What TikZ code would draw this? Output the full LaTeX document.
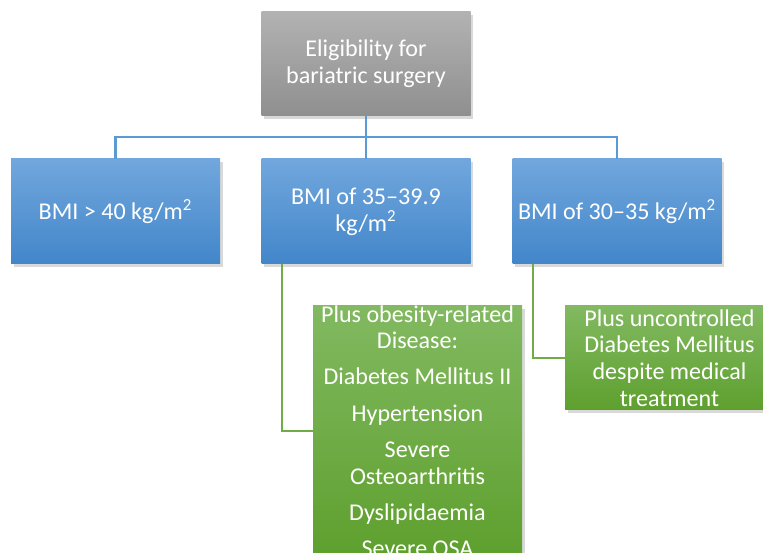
\documentclass[tikz,border=0pt]{standalone}
\usepackage{fontspec}
\setmainfont{Carlito}
\usetikzlibrary{shadows}

\definecolor{grayTop}{RGB}{178,178,178}
\definecolor{grayBot}{RGB}{143,143,143}
\definecolor{blueTop}{RGB}{113,167,221}
\definecolor{blueBot}{RGB}{66,134,202}
\definecolor{greenTop}{RGB}{130,185,97}
\definecolor{greenBot}{RGB}{94,160,46}
\definecolor{linkblue}{RGB}{91,155,213}
\definecolor{linkgreen}{RGB}{112,173,71}

\begin{document}
\begin{tikzpicture}[
    card/.style={minimum width=4.18cm, minimum height=2.1cm, inner sep=0pt,
        drop shadow={shadow xshift=0.05cm, shadow yshift=-0.06cm, opacity=0.3}},
    boxtext/.style={text=white, align=center, font=\fontsize{13.7}{15.2}\selectfont},
    graycard/.style={card, boxtext, top color=grayTop, bottom color=grayBot},
    bluecard/.style={card, boxtext, top color=blueTop, bottom color=blueBot},
    greencard/.style={card, top color=greenTop, bottom color=greenBot},
    bluelink/.style={draw=linkblue, line width=1.4pt},
    greenlink/.style={draw=linkgreen, line width=1.4pt}
]
    \useasboundingbox (0,0) rectangle (15.26,11.06);
    \clip (0,0) rectangle (15.26,11.06);

    % top box
    \node[graycard, minimum height=2.08cm] (elig) at (7.32,9.78) {Eligibility for\\bariatric surgery};

    % BMI boxes
    \node[bluecard] (bmiA) at (2.31,6.83) {BMI > 40 kg/m\textsuperscript{2}};
    \node[bluecard] (bmiB) at (7.32,6.83) {BMI of 35--39.9\\kg/m\textsuperscript{2}};
    \node[bluecard] (bmiC) at (12.34,6.83) {BMI of 30--35 kg/m\textsuperscript{2}};

    \coordinate (bus) at (7.32,8.32);
    \draw[bluelink] (elig.south) -- (bus);
    \draw[bluelink] (bus) -| (bmiA.north);
    \draw[bluelink] (bus) -- (bmiB.north);
    \draw[bluelink] (bus) -| (bmiC.north);

    % extra conditions
    \node[greencard, minimum height=5cm] (plusA) at (8.35,2.44) {};
    \node[boxtext] (plusAtxt) at (plusA.center) {Plus obesity-related\\Disease:\\[0.19cm]Diabetes Mellitus II\\[0.19cm]Hypertension\\[0.19cm]Severe\\Osteoarthritis\\[0.19cm]Dyslipidaemia\\[0.19cm]Severe OSA};
    \node[greencard, boxtext, minimum height=2.08cm] (plusC) at (13.39,3.90) {Plus uncontrolled\\Diabetes Mellitus\\despite medical\\treatment};

    \draw[greenlink] ([xshift=0.42cm]bmiB.south west) |- (plusA.west);
    \draw[greenlink] ([xshift=0.42cm]bmiC.south west) |- (plusC.west);
\end{tikzpicture}
\end{document}
